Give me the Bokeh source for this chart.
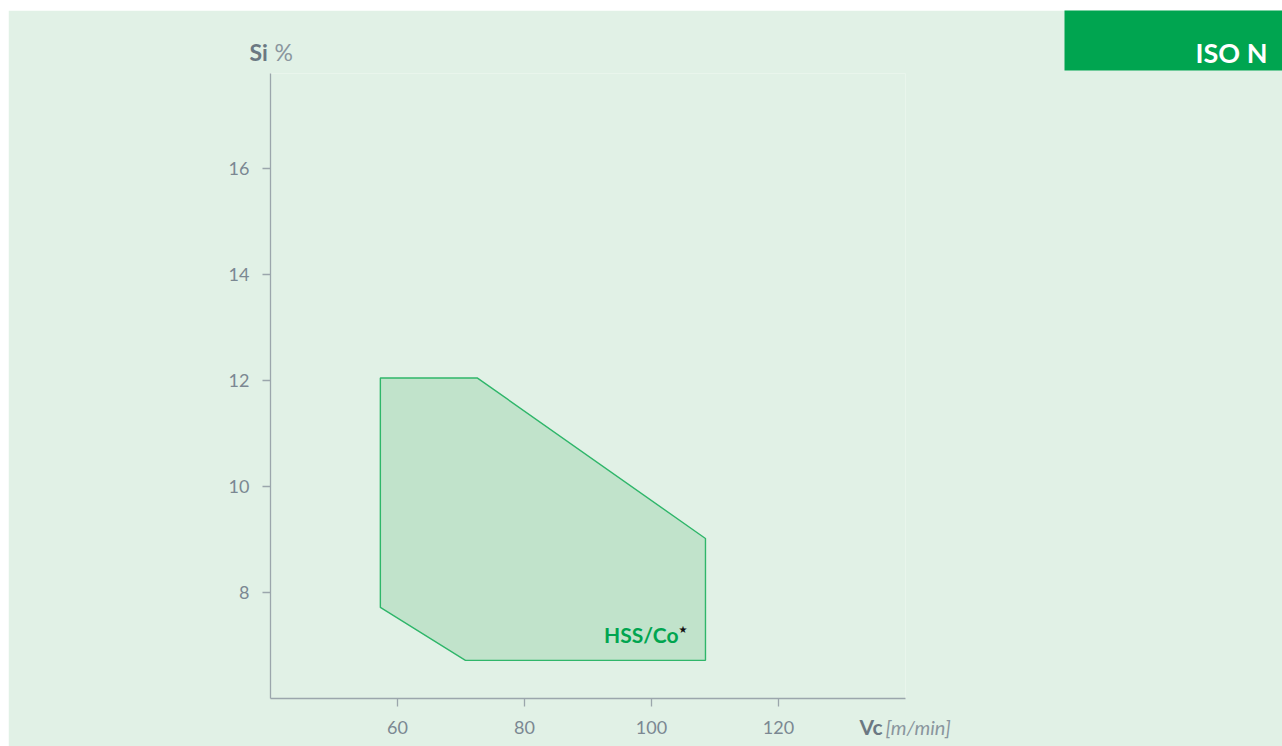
from bokeh.plotting import figure
from bokeh.models import Range1d, FixedTicker, Label, Spacer
from bokeh.layouts import column, row
from bokeh.embed import file_html
from bokeh.resources import INLINE

# ---- data ----
vc_values = [57.3, 57.3, 72.6, 108.5, 108.5, 70.7]   # Vc [m/min]
si_values = [7.72, 12.05, 12.05, 9.02, 6.72, 6.72]   # Si %
x_ticks = [60, 80, 100, 120]
y_ticks = [8, 10, 12, 14, 16]
region_label = "HSS/Co"
badge_text = "ISO N"

BG = "#e1f1e6"
GREEN = "#00a550"
AXIS = "#9ba6ac"
TICKTXT = "#7b8892"
LABTXT = "#6b7882"

X0, X1 = 40, 140
Y0, Y1 = 6, 17.8
W, H = 1274, 736
OX, OY = 8, 10                      # figure offset on the page
FL, FR, FT, FB = 262, 897, 63, 688  # frame box in figure pixels


def dx(px):  # page pixel -> data x
    return X0 + (px - OX - FL) * (X1 - X0) / (FR - FL)


def dy(py):  # page pixel -> data y
    return Y0 + (FB - (py - OY)) * (Y1 - Y0) / (FB - FT)


p = figure(width=W, height=H, output_backend="svg", toolbar_location=None,
           x_range=Range1d(X0, X1), y_range=Range1d(Y0, Y1),
           min_border_left=FL, min_border_right=W - FR,
           min_border_top=FT, min_border_bottom=H - FB)
p.background_fill_color = BG
p.border_fill_color = BG
p.outline_line_color = None
p.xgrid.visible = False
p.ygrid.visible = False

for ax in (p.xaxis[0], p.yaxis[0]):
    ax.axis_line_color = AXIS
    ax.axis_line_width = 1.3
    ax.major_tick_line_color = AXIS
    ax.major_tick_line_width = 1.3
    ax.major_tick_out = 8
    ax.major_tick_in = 0
    ax.minor_tick_line_color = None
    ax.major_label_text_color = TICKTXT
    ax.major_label_text_font = "Lato"
    ax.major_label_text_font_size = "18px"
p.xaxis[0].ticker = FixedTicker(ticks=x_ticks)
p.yaxis[0].ticker = FixedTicker(ticks=y_ticks)
p.xaxis[0].major_label_standoff = 14
p.yaxis[0].major_label_standoff = 13

p.patch(vc_values, si_values, fill_color="#c1e3cb", fill_alpha=1.0,
        line_color="#2fb66a", line_width=1.4)

# region label
p.add_layout(Label(x=dx(678), y=dy(634), text=region_label, text_align="right",
                   text_baseline="alphabetic", text_font="Lato", text_font_style="bold",
                   text_font_size="21px", text_color=GREEN))
p.add_layout(Label(x=dx(678), y=dy(629), text="\u2605", text_align="left",
                   text_baseline="alphabetic", text_font="DejaVu Sans",
                   text_font_size="10px", text_color="#111111"))

# axis titles (placed in the wide left side panel so that they are not clipped)
p.add_layout(Label(x=dx(249), y=dy(51), text="Si", text_baseline="alphabetic",
                   text_font="Lato", text_font_style="bold", text_font_size="23px",
                   text_color=LABTXT), "left")
p.add_layout(Label(x=dx(274), y=dy(51), text="%", text_baseline="alphabetic",
                   text_font="Lato", text_font_size="23px", text_color="#8a969e"), "left")
p.add_layout(Label(x=dx(859), y=dy(726), text="Vc", text_baseline="alphabetic",
                   text_font="Lato", text_font_style="bold", text_font_size="21px",
                   text_color=LABTXT), "left")
p.add_layout(Label(x=dx(885), y=dy(726), text="[m/min]", text_baseline="alphabetic",
                   text_font="Lato", text_font_style="italic", text_font_size="20px",
                   text_color="#8a969e"), "left")

# badge
p.add_layout(Label(x=dx(1282), y=dy(10), text=badge_text, text_align="right",
                   text_baseline="top", text_font="Lato", text_font_style="bold",
                   text_font_size="27px", text_color="white",
                   background_fill_color=GREEN, background_fill_alpha=1.0,
                   padding=dict(left=131, right=15, top=25, bottom=2)), "right")

layout = column(Spacer(height=OY), row(Spacer(width=OX), p))
open("out.html", "w").write(file_html(layout, INLINE))
